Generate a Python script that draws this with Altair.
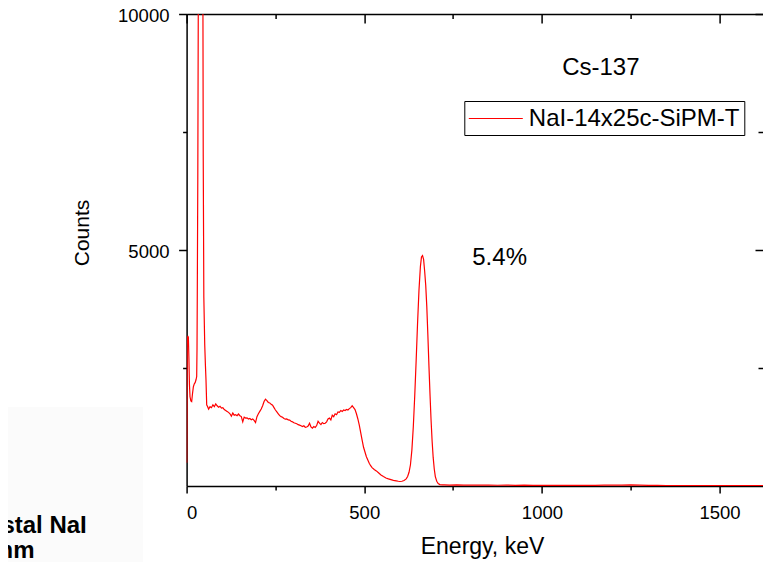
import altair as alt
import pandas as pd

FONT = "Liberation Sans"
series_name = "NaI-14x25c-SiPM-T"

# ---- spectrum ----
energy_kev = [
    0.5, 2, 3.5, 5, 6.5, 8, 9.6, 12, 14.3, 16.5, 19, 21.5, 24, 26.5, 28.4, 29.3,
    30, 31.5, 33, 35, 37, 39, 41, 43, 45, 46, 46.8, 48.5, 51, 53, 54.6, 56.6,
    58, 62, 66, 70, 74, 78, 82, 86, 90, 94, 98, 102, 106, 110, 114, 118, 122, 126,
    130, 134, 138, 142, 146, 150, 154, 158, 162, 166, 170, 174, 178, 182, 186, 190,
    194, 198, 202, 206, 210, 214, 218, 222, 226, 230, 234, 238, 242, 246, 250, 254,
    258, 262, 266, 270, 274, 278, 282, 286, 290, 294, 298, 302, 306, 310, 314, 318,
    322, 326, 330, 334, 338, 342, 346, 350, 354, 358, 362, 366, 370, 374, 378, 382,
    386, 390, 394, 398, 402, 406, 410, 414, 418, 422, 426, 430, 434, 438, 442, 446,
    450, 454, 458, 462, 466, 470, 474, 478, 482, 486, 490, 494, 498, 502, 506, 510,
    514, 518, 522, 528, 534, 540, 547, 554, 561, 568, 575, 582, 590, 596,
    600, 606, 612, 618, 622, 626, 630, 634, 638, 642, 646, 650, 654, 658, 661, 664,
    667, 670, 673, 676, 679, 682, 685, 688, 691, 694, 697, 700, 704, 708, 713, 720,
    725, 740, 760, 780, 800, 825, 850, 875, 900, 925, 950, 975, 1000, 1025, 1050,
    1075, 1100, 1125, 1150, 1175, 1200, 1225, 1250, 1275, 1300, 1325, 1350, 1400,
    1450, 1500, 1550, 1600, 1650,
]
counts = [
    490, 3100, 3180, 3150, 2700, 2150, 1890, 1800, 1786, 1950, 2100, 2160, 2190, 2250, 2320, 2900,
    3940, 6500, 10500, 15500, 19500, 21500, 21000, 17000, 12500, 10000, 7000, 4000, 3000, 2550, 2246, 1716,
    1700, 1630, 1680, 1660, 1720, 1680, 1740, 1700, 1670, 1690, 1650, 1660, 1620, 1600, 1580, 1560, 1530, 1480,
    1545, 1500, 1510, 1490, 1525, 1490, 1470, 1360, 1460, 1440, 1445, 1420, 1430, 1405, 1420, 1390,
    1345, 1470, 1530, 1580, 1630, 1700, 1790, 1840, 1810, 1770, 1760, 1730, 1710, 1660, 1610, 1570,
    1530, 1490, 1470, 1455, 1430, 1415, 1420, 1400, 1395, 1370, 1360, 1340, 1330, 1320, 1300, 1290,
    1275, 1260, 1275, 1245, 1250, 1270, 1330, 1250, 1225, 1260, 1240, 1280, 1370, 1330, 1300, 1345,
    1320, 1330, 1360, 1420, 1440, 1400, 1500, 1470, 1530, 1510, 1570, 1560, 1600, 1580, 1610, 1600,
    1620, 1610, 1640, 1660, 1700, 1660, 1620, 1530, 1420, 1290, 1130, 970, 820, 720, 620, 550,
    480, 430, 390, 350, 320, 280, 235, 200, 170, 150, 135, 120, 110, 100,
    95, 100, 115, 150, 200, 290, 450, 760, 1250, 1900, 2650, 3450, 4150, 4650, 4850, 4880,
    4800, 4550, 4250, 3800, 3200, 2550, 1950, 1400, 950, 600, 360, 200, 100, 50, 30, 22,
    24, 20, 22, 18, 20, 17, 19, 16, 18, 15, 17, 14, 16, 13, 15,
    14, 16, 13, 15, 18, 21, 19, 22, 17, 14, 12, 11, 10,
    9, 8, 8, 7, 7,
]

# ---- axes ----
x_ticks_major = [0, 500, 1000, 1500]
x_ticks_minor = [250, 750, 1250]
y_ticks_major = [5000, 10000]
y_ticks_minor = [2500, 7500]
x_domain = [0, 1622.2]
y_domain = [0, 10000]

# ---- annotations (data coordinates) ----
ann_text = ["Cs-137", "5.4%"]
ann_x = [1057, 804]
ann_y = [8708, 4682]

side_text = ["stal NaI", "mm"]
side_x = [-281, -428]
side_y = [-1002, -1515]

box_x = [-525]
box_x2 = [-123]
box_y = [1674]
box_y2 = [-1700]

df = pd.DataFrame({"energy": energy_kev, "counts": counts, "series": series_name})
xs = alt.Scale(domain=x_domain, nice=False, zero=False)
ys = alt.Scale(domain=y_domain, nice=False, zero=False)

base = dict(grid=False, tickColor="black", tickWidth=1.5,
            domainColor="black", domainWidth=1.5,
            labelColor="black", labelFont=FONT, titleFont=FONT,
            titleColor="black", titleFontWeight="normal")

box = alt.Chart(pd.DataFrame({"x": box_x, "x2": box_x2, "y": box_y, "y2": box_y2})).mark_rect(
    color="#fbfbfb").encode(
    x=alt.X("x:Q", scale=xs, axis=None), x2="x2:Q",
    y=alt.Y("y:Q", scale=ys, axis=None), y2="y2:Q")

side = alt.Chart(pd.DataFrame({"x": side_x, "y": side_y, "t": side_text})).mark_text(
    font=FONT, fontSize=24, fontWeight="bold", color="black", align="right",
    baseline="alphabetic").encode(
    x=alt.X("x:Q", scale=xs, axis=None), y=alt.Y("y:Q", scale=ys, axis=None), text="t:N")

line = alt.Chart(df).mark_line(strokeWidth=1.2, clip=True).encode(
    x=alt.X("energy:Q", scale=xs,
            axis=alt.Axis(orient="bottom", values=x_ticks_major, format="d", tickSize=7,
                          domain=True, labelFontSize=18.5, labelPadding=10,
                          title="Energy, keV", titleFontSize=23, titleX=295.4, titleY=67.3,
                          titleBaseline="alphabetic", titleAlign="center", **base)),
    y=alt.Y("counts:Q", scale=ys,
            axis=alt.Axis(orient="left", values=y_ticks_major, format="d", tickSize=8,
                          domain=True, labelFontSize=18.5, labelPadding=9.6, labelOffset=1,
                          title="Counts",
                          titleFontSize=21, titleX=-98.6, titleY=218.5, titleAngle=270,
                          titleBaseline="alphabetic", titleAlign="center", **base)),
    color=alt.Color("series:N", scale=alt.Scale(domain=[series_name], range=["#ff0000"]),
                    legend=alt.Legend(orient="none", legendX=277.7, legendY=87, title=None,
                                      strokeColor="black", fillColor="white", padding=4.5,
                                      symbolType="M-2.25,0H2.25", symbolSize=576,
                                      symbolOffset=14, symbolStrokeWidth=1.2,
                                      symbolStrokeColor="#ff0000",
                                      labelFont=FONT, labelFontSize=24, labelColor="black",
                                      labelOffset=20, labelLimit=500)),
)

ann = alt.Chart(pd.DataFrame({"x": ann_x, "y": ann_y, "t": ann_text})).mark_text(
    font=FONT, fontSize=24, color="black", align="left", baseline="alphabetic").encode(
    x=alt.X("x:Q", scale=xs, axis=None), y=alt.Y("y:Q", scale=ys, axis=None), text="t:N")


def x_axis_layer(values, orient, size, offset, domain=False, ticks=True):
    return alt.Chart(pd.DataFrame({"energy": values})).mark_point(opacity=0).encode(
        x=alt.X("energy:Q", scale=xs,
                axis=alt.Axis(orient=orient, values=values, tickSize=size, offset=offset,
                              domain=domain, ticks=ticks, labels=False, title=None, **base)))


def y_axis_layer(values, orient, size, offset):
    return alt.Chart(pd.DataFrame({"counts": values})).mark_point(opacity=0).encode(
        y=alt.Y("counts:Q", scale=ys,
                axis=alt.Axis(orient=orient, values=values, tickSize=size, offset=offset,
                              domain=False, labels=False, title=None, **base)))


layers = [
    box, side, line, ann,
    x_axis_layer(x_ticks_minor, "bottom", 4, 0),
    y_axis_layer(y_ticks_minor, "left", 4, 0),
    x_axis_layer(x_ticks_major, "top", 1, 0, domain=True, ticks=False),
    x_axis_layer(x_ticks_major, "top", 9, -9),
    x_axis_layer(x_ticks_minor, "top", 4.5, -4.5),
    y_axis_layer(y_ticks_major, "right", 8, -8),
    y_axis_layer(y_ticks_minor, "right", 5, -5),
]

chart = alt.layer(*layers).resolve_axis(x="independent", y="independent").properties(
    width=576.4, height=472,
    padding={"left": 178.6, "top": 6, "right": 0, "bottom": 76},
    autosize=alt.AutoSizeParams(type="none"),
    background="white",
).configure_view(stroke=None)

chart.save("out.html", embed_options={"renderer": "svg", "actions": False})
